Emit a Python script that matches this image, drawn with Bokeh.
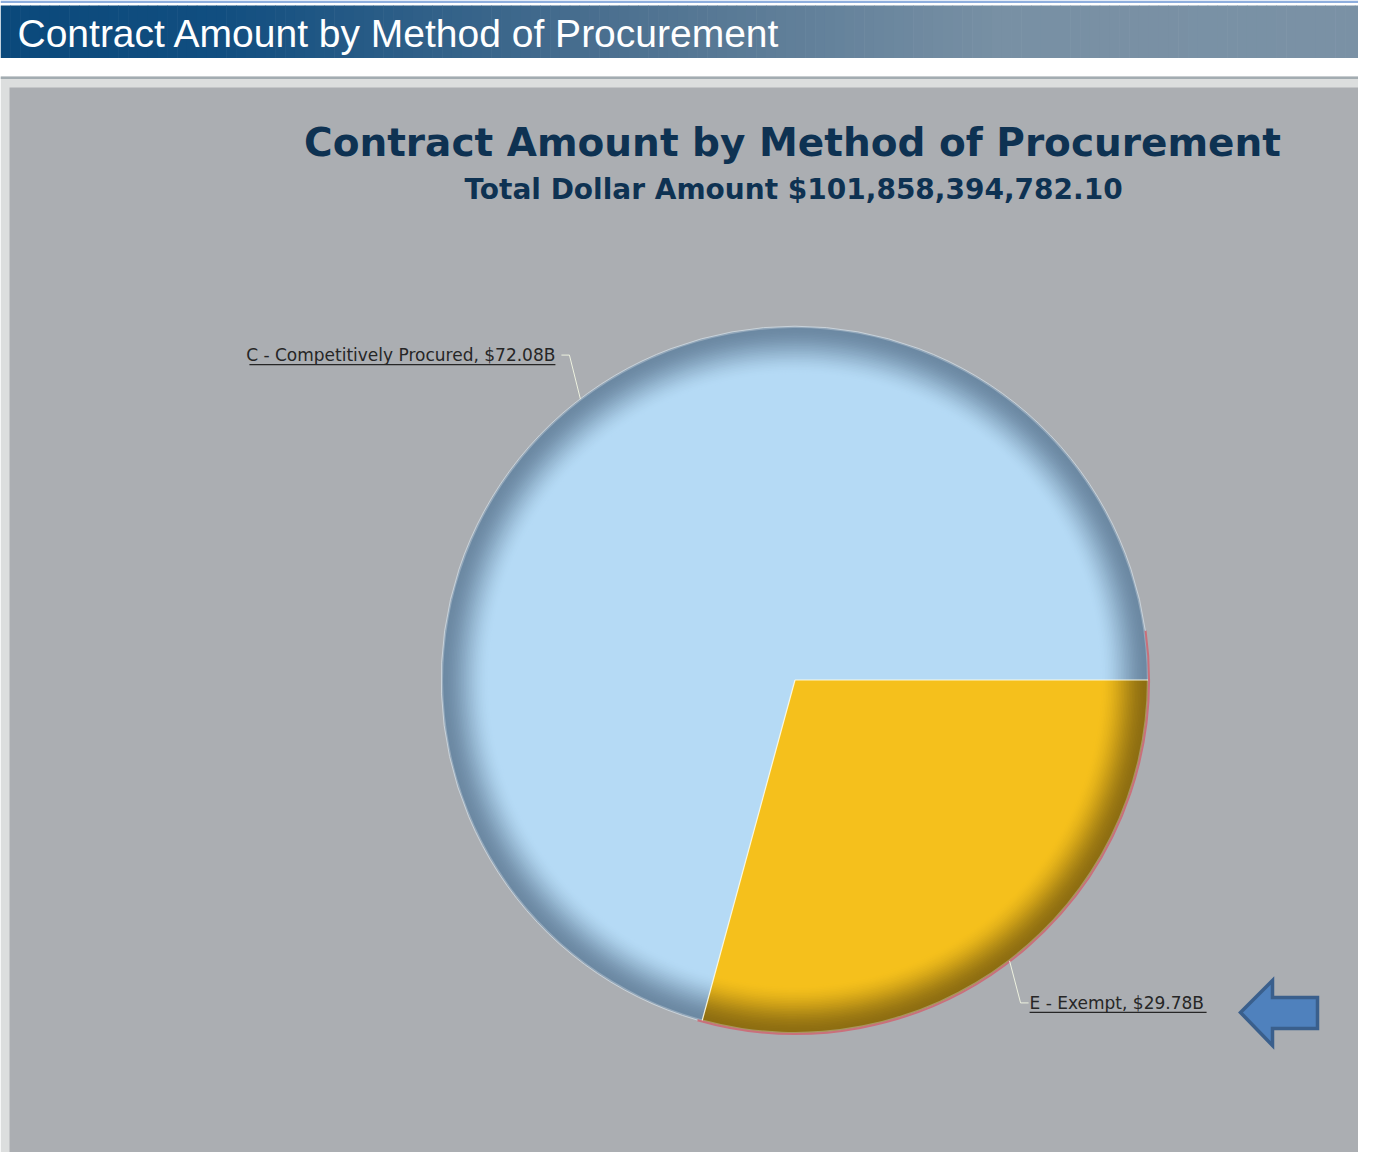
import math
from bokeh.plotting import figure
from bokeh.models import ColumnDataSource
from bokeh.core.properties import value
from bokeh.embed import file_html
from bokeh.resources import INLINE

# ---------------- data ----------------
page_title = "Contract Amount by Method of Procurement"
chart_title = "Contract Amount by Method of Procurement"
subtitle = "Total Dollar Amount $101,858,394,782.10"
categories = ["E - Exempt", "C - Competitively Procured"]
amounts_b = [29.78, 72.08]          # billions of dollars
base_colors = ["#F5C01C", "#B5DAF5"]
edge_colors = ["#8E6E12", "#6C89A3"]

# ---------------- layout helpers ----------------
H = 1171
def Y(sy):
    return H - sy

def hex2rgb(h):
    h = h.lstrip("#")
    return tuple(int(h[i:i + 2], 16) for i in (0, 2, 4))

def rgb2hex(c):
    return "#%02x%02x%02x" % tuple(int(round(v)) for v in c)

def lerp(c1, c2, t):
    a, b = hex2rgb(c1), hex2rgb(c2)
    return rgb2hex([a[i] + (b[i] - a[i]) * t for i in range(3)])

W_FIG, H_FIG = 1358, 1152
p = figure(width=W_FIG, height=H_FIG, x_range=(0, W_FIG), y_range=(Y(H_FIG), Y(0)),
           output_backend="svg", toolbar_location=None,
           x_axis_location=None, y_axis_location=None, min_border=0)
p.grid.visible = False
p.outline_line_color = None
p.background_fill_color = "#FFFFFF"
p.border_fill_color = "#FFFFFF"

# ---------------- page chrome ----------------
p.quad(left=0, right=1374, top=Y(0), bottom=Y(2.5), fill_color="#8EAEDD", line_color=None)
stops = [(0, "#0B497B"), (220, "#114E80"), (600, "#4A6F8F"), (1000, "#7890A4"), (1374, "#7A91A5")]
def grad(x):
    for (x0, c0), (x1, c1) in zip(stops[:-1], stops[1:]):
        if x0 <= x <= x1:
            return lerp(c0, c1, (x - x0) / (x1 - x0))
    return stops[-1][1]
nseg = 140
xs = [1374 * i / nseg for i in range(nseg + 1)]
p.quad(left=xs[:-1], right=[x + 0.6 for x in xs[1:]], top=Y(5), bottom=Y(57.5),
       fill_color=[grad((a + b) / 2) for a, b in zip(xs[:-1], xs[1:])], line_color=None)
p.text(x=[17], y=[Y(33)], text=[page_title], text_font=value("Liberation Sans"),
       text_font_size="39px", text_color="#FFFFFF", text_align="left", text_baseline="middle")

p.quad(left=0, right=1374, top=Y(76), bottom=Y(1171), fill_color="#DCDEDE", line_color=None)
p.quad(left=0, right=1374, top=Y(76), bottom=Y(78.5), fill_color="#A3ACB1", line_color=None)
p.quad(left=9, right=1374, top=Y(87), bottom=Y(1157), fill_color="#ABAEB2", line_color=None)

# ---------------- titles ----------------
p.text(x=[792], y=[Y(142)], text=[chart_title], text_font=value("DejaVu Sans"),
       text_font_style="bold", text_font_size="39px", text_color="#0E3252",
       text_align="center", text_baseline="middle")
p.text(x=[793], y=[Y(189)], text=[subtitle], text_font=value("DejaVu Sans"),
       text_font_style="bold", text_font_size="28px", text_color="#0E3252",
       text_align="center", text_baseline="middle")

# ---------------- pie ----------------
cx, cy, R = 794.5, Y(679.5), 353.5
total = sum(amounts_b)
angles = [0.0]
for a in amounts_b:
    angles.append(angles[-1] - 2 * math.pi * a / total)   # clockwise from 3 o'clock
starts = [angles[i + 1] for i in range(len(amounts_b))]
ends = [angles[i] for i in range(len(amounts_b))]

BAND = 48
NSTEP = 30
for k in range(NSTEP + 1):
    t = k / NSTEP
    r = R - BAND * t
    s = t * t * (3 - 2 * t)
    cols = [lerp(e, b, s) for e, b in zip(edge_colors, base_colors)]
    if k == 0:
        cols = [lerp(e, "#D8E0E6", 0.35) for e in edge_colors]
    src = ColumnDataSource(dict(x=[cx] * len(amounts_b), y=[cy] * len(amounts_b),
                                s=starts, e=ends, c=cols))
    p.wedge(x="x", y="y", radius=r if k else R, start_angle="s", end_angle="e",
            fill_color="c", line_color=None, source=src)
    if k == 0:
        src2 = ColumnDataSource(dict(x=[cx] * len(amounts_b), y=[cy] * len(amounts_b),
                                     s=starts, e=ends, c=edge_colors))
        p.wedge(x="x", y="y", radius=R - 2.5, start_angle="s", end_angle="e",
                fill_color="c", line_color=None, source=src2)

# separators
p.segment(x0=[cx] * len(angles[:-1]), y0=[cy] * len(angles[:-1]),
          x1=[cx + R * math.cos(a) for a in angles[:-1]],
          y1=[cy + R * math.sin(a) for a in angles[:-1]],
          line_color="#FFFCE6", line_width=1.2, line_alpha=0.9)
# rim
p.arc(x=[cx], y=[cy], radius=R + 0.5, start_angle=math.radians(-106), end_angle=math.radians(8),
      line_color="#C9707B", line_width=2)
p.arc(x=[cx], y=[cy], radius=R + 0.3, start_angle=math.radians(8), end_angle=math.radians(254),
      line_color="#D2DCE4", line_width=1, line_alpha=0.8)

# ---------------- labels with leader lines ----------------
mids = [(s + e) / 2 for s, e in zip(starts, ends)]
label_texts = [f"{c}, ${v:.2f}B" for c, v in zip(categories, amounts_b)]
label_side = [1 if math.cos(m) >= 0 else -1 for m in mids]
label_dy = [-42 if math.sin(m) < 0 else 44 for m in mids]
label_width = [177, 306]
label_gap = [1, 6]
for m, txt, side, dy, w, g in zip(mids, label_texts, label_side, label_dy, label_width, label_gap):
    rx, ry = cx + R * math.cos(m), cy + R * math.sin(m)
    ex, ey = rx + 11 * side, ry + dy
    hx = ex + 8 * side
    p.line(x=[rx, ex, hx], y=[ry, ey, ey], line_color="#EDF1DF", line_width=1)
    tx = hx + g * side
    p.text(x=[tx], y=[ey], text=[txt], text_font=value("DejaVu Sans"), text_font_size="17px",
           text_color="#262626", text_align="left" if side > 0 else "right",
           text_baseline="middle")
    x_a, x_b = (tx, tx + w) if side > 0 else (tx - w, tx)
    p.segment(x0=[x_a], y0=[ey - 9.5], x1=[x_b], y1=[ey - 9.5], line_color="#262626", line_width=1.2)

# ---------------- block arrow pointing at the Exempt label ----------------
ax0, ay0 = 1240, Y(1012)
arrow_dx = [0, 32, 32, 77, 77, 32, 32]
arrow_dy = [0, 32, 15, 15, -16, -16, -33]
p.patch(x=[ax0 + d for d in arrow_dx], y=[ay0 + d for d in arrow_dy],
        fill_color="#4F81BD", line_color="#3A5F8C", line_width=3.5, line_join="miter")

open("out.html", "w").write(file_html(p, INLINE))
